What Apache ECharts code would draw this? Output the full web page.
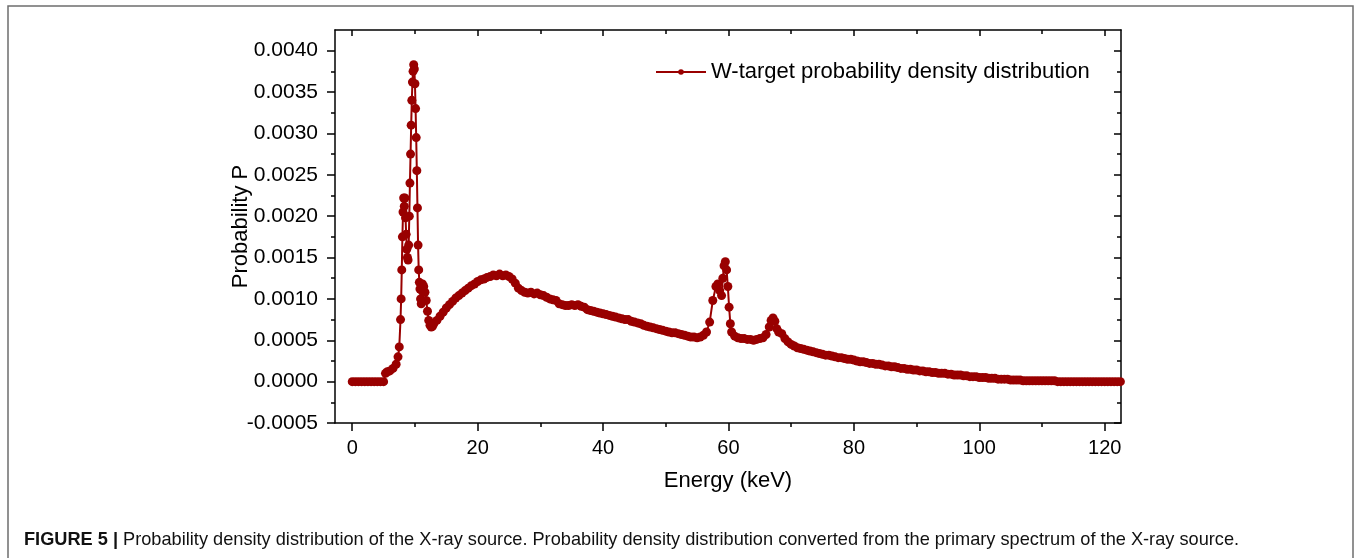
<!DOCTYPE html>
<html>
<head>
<meta charset="utf-8">
<script src="https://cdn.jsdelivr.net/npm/echarts@6/dist/echarts.min.js"></script>
<style>
  html, body { margin: 0; padding: 0; background: #fff; }
  #chart { width: 1356px; height: 558px; }
</style>
</head>
<body>
<div id="chart"></div>
<script>
// energy (keV) and probability
const energyA = [0, 0.5, 1, 1.5, 2, 2.5, 3, 3.5, 4, 4.5, 5, 5.3, 5.6, 6, 6.5, 7, 7.3, 7.5, 7.7, 7.8,
  7.9, 8, 8.1, 8.2, 8.3, 8.4, 8.5, 8.6, 8.7, 8.8, 8.9, 9, 9.1, 9.2, 9.3, 9.4, 9.5, 9.6, 9.7, 9.8,
  9.9, 10, 10.1, 10.2, 10.3, 10.4, 10.5, 10.6, 10.7, 10.8, 10.9, 11, 11.1, 11.2, 11.4, 11.6, 11.8, 12, 12.2, 12.4,
  12.6, 12.8, 13];
const probA = [0, 0, 0, 0, 0, 0, 0, 0, 0, 0, 0, 0.00010, 0.00012, 0.00013, 0.00016, 0.00021, 0.00030, 0.00042, 0.00075, 0.00100,
  0.00135, 0.00175, 0.00205, 0.00222, 0.00212, 0.00222, 0.00198, 0.00178, 0.00160, 0.00150, 0.00147, 0.00165, 0.00200, 0.00240, 0.00275, 0.00310, 0.00340, 0.00362, 0.00375, 0.00383,
  0.00378, 0.00360, 0.00330, 0.00295, 0.00255, 0.00210, 0.00165, 0.00135, 0.00120, 0.00112, 0.00100, 0.00094, 0.00110, 0.00118, 0.00115, 0.00108, 0.00098, 0.00085, 0.00074, 0.00068,
  0.00066, 0.00067, 0.00070];

const energyB = [13.5, 14, 14.5, 15, 15.5, 16, 16.5, 17, 17.5, 18, 18.5, 19, 19.5, 20, 20.5, 21, 21.5, 22, 22.5, 23,
  23.5, 24, 24.5, 25, 25.5, 26, 26.5, 27, 27.5, 28, 28.5, 29, 29.5, 30, 30.5, 31, 31.5, 32, 32.5, 33,
  33.5, 34, 34.5, 35, 35.5, 36, 36.5, 37, 37.5, 38, 38.5, 39, 39.5, 40, 40.5, 41, 41.5, 42, 42.5, 43,
  43.5, 44, 44.5, 45, 45.5, 46, 46.5, 47, 47.5, 48, 48.5, 49, 49.5, 50, 50.5, 51, 51.5, 52, 52.5, 53,
  53.5, 54, 54.5, 55, 55.5, 56, 56.5];
const probB = [0.00074, 0.00079, 0.00084, 0.00089, 0.00093, 0.00097, 0.00101, 0.00104, 0.00107, 0.00110, 0.00113, 0.00116, 0.00118, 0.00121, 0.00123, 0.00124, 0.00126, 0.00127, 0.00129, 0.00128,
  0.00130, 0.00128, 0.00129, 0.00127, 0.00124, 0.00119, 0.00113, 0.00110, 0.00108, 0.00107, 0.00108, 0.00106, 0.00107, 0.00105, 0.00104, 0.00102, 0.00100, 0.00099, 0.00098, 0.00094,
  0.00093, 0.00092, 0.00092, 0.00093, 0.00092, 0.00093, 0.00091, 0.00090, 0.00087, 0.00086, 0.00085, 0.00084, 0.00083, 0.00082, 0.00081, 0.00080, 0.00079, 0.00078, 0.00077, 0.00076,
  0.00075, 0.00075, 0.00073, 0.00072, 0.00071, 0.00070, 0.00068, 0.00067, 0.00066, 0.00065, 0.00064, 0.00063, 0.00062, 0.00061, 0.00060, 0.00059, 0.00059, 0.00058, 0.00057, 0.00056,
  0.00055, 0.00054, 0.00054, 0.00053, 0.00054, 0.00056, 0.00060];

const energyC = [57, 57.5, 58, 58.3, 58.6, 58.9, 59.1, 59.3, 59.5, 59.7, 59.9, 60.1, 60.3, 60.5, 61, 61.5, 62, 62.5, 63, 63.5,
  64, 64.5, 65, 65.5, 66, 66.5, 66.8, 67.1, 67.4, 67.7, 68, 68.5, 69, 69.5, 70];
const probC = [0.00072, 0.00098, 0.00115, 0.00118, 0.00110, 0.00104, 0.00125, 0.00140, 0.00145, 0.00135, 0.00115, 0.00090, 0.00070, 0.00060, 0.00055, 0.00053, 0.00052, 0.00052, 0.00051, 0.00051,
  0.00050, 0.00051, 0.00052, 0.00053, 0.00057, 0.00066, 0.00074, 0.00077, 0.00073, 0.00064, 0.00060, 0.00058, 0.00052, 0.00048, 0.00045];

const energyD = [70.5, 71, 71.5, 72, 72.5, 73, 73.5, 74, 74.5, 75, 75.5, 76, 76.5, 77, 77.5, 78, 78.5, 79, 79.5, 80,
  80.5, 81, 81.5, 82, 82.5, 83, 83.5, 84, 84.5, 85, 85.5, 86, 86.5, 87, 87.5, 88, 88.5, 89, 89.5, 90,
  90.5, 91, 91.5, 92, 92.5, 93, 93.5, 94, 94.5, 95, 95.5, 96, 96.5, 97, 97.5, 98, 98.5, 99, 99.5, 100,
  100.5, 101, 101.5, 102, 102.5, 103, 103.5, 104, 104.5, 105, 105.5, 106, 106.5, 107, 107.5, 108, 108.5, 109, 109.5, 110,
  110.5, 111, 111.5, 112, 112.5, 113, 113.5, 114, 114.5, 115, 115.5, 116, 116.5, 117, 117.5, 118, 118.5, 119, 119.5, 120,
  120.5, 121, 121.5, 122, 122.5];
const probD = [0.00043, 0.00041, 0.00040, 0.00039, 0.00038, 0.00037, 0.00036, 0.00035, 0.00034, 0.00033, 0.00032, 0.00032, 0.00031, 0.00030, 0.00029, 0.00029, 0.00028, 0.00027, 0.00027, 0.00026,
  0.00025, 0.00024, 0.00024, 0.00023, 0.00022, 0.00022, 0.00021, 0.00021, 0.00020, 0.00019, 0.00019, 0.00018, 0.00018, 0.00017, 0.00016, 0.00016, 0.00015, 0.00015, 0.00014, 0.00014,
  0.00013, 0.00013, 0.00012, 0.00012, 0.00011, 0.00011, 0.00010, 0.00010, 0.00010, 0.00009, 0.00009, 0.00008, 0.00008, 0.00008, 0.00007, 0.00007, 0.00006, 0.00006, 0.00006, 0.00005,
  0.00005, 0.00005, 0.00004, 0.00004, 0.00004, 0.00003, 0.00003, 0.00003, 0.00003, 0.00002, 0.00002, 0.00002, 0.00002, 0.00001, 0.00001, 0.00001, 0.00001, 0.00001, 0.00001, 0.00001,
  0.00001, 0.00001, 0.00001, 0.00001, 0, 0, 0, 0, 0, 0, 0, 0, 0, 0, 0, 0, 0, 0, 0, 0,
  0, 0, 0, 0, 0];

// ticks
const xMajor = [0, 20, 40, 60, 80, 100, 120];
const xMinor = [10, 30, 50, 70, 90, 110];
const yMajor = [-0.0005, 0, 0.0005, 0.001, 0.0015, 0.002, 0.0025, 0.003, 0.0035, 0.004];
const yMinor = [-0.00025, 0.00025, 0.00075, 0.00125, 0.00175, 0.00225, 0.00275, 0.00325, 0.00375];

const seriesName = 'W-target probability density distribution';
const xName = 'Energy (keV)';
const yName = 'Probability P';
const caption = 'Probability density distribution of the X-ray source. Probability density distribution converted from the primary spectrum of the X-ray source.';

const energy = energyA.concat(energyB, energyC, energyD);
const prob = probA.concat(probB, probC, probD);

const FONT = '"Liberation Sans", Arial, sans-serif';
const RED = '#990000';
const X_MIN = -2.75, X_MAX = 122.6;
const Y_MIN = -0.0005, Y_MAX = 0.00425;
const axisLineStyle = { color: '#000', width: 1.5 };

// one axis per tick set, so the mirrored frame and minor ticks line up
function xAx(position, ticks, inside, len, showLine, labels) {
  return {
    type: 'value', position: position, min: X_MIN, max: X_MAX,
    axisLine: { show: showLine, onZero: false, lineStyle: axisLineStyle },
    axisTick: { show: true, inside: inside, length: len, customValues: ticks, lineStyle: { color: '#000', width: 1.5 } },
    axisLabel: labels ? { show: true, customValues: ticks, color: '#000', fontFamily: FONT, fontSize: 20, margin: 15 } : { show: false },
    splitLine: { show: false }
  };
}
function yAx(position, ticks, inside, len, showLine, labels) {
  return {
    type: 'value', position: position, min: Y_MIN, max: Y_MAX,
    axisLine: { show: showLine, onZero: false, lineStyle: axisLineStyle },
    axisTick: { show: true, inside: inside, length: len, customValues: ticks, lineStyle: { color: '#000', width: 1.5 } },
    axisLabel: labels ? {
      show: true, customValues: ticks, color: '#000', fontFamily: FONT, fontSize: 21, margin: 17,
      formatter: v => v.toFixed(4)
    } : { show: false },
    splitLine: { show: false }
  };
}

const xBottom = xAx('bottom', xMajor, false, 8, true, true);
xBottom.name = xName;
xBottom.nameLocation = 'middle';
xBottom.nameGap = 47;
xBottom.nameTextStyle = { color: '#000', fontFamily: FONT, fontSize: 22 };

const yLeft = yAx('left', yMajor, false, 8, true, true);
yLeft.name = yName;
yLeft.nameLocation = 'middle';
yLeft.nameGap = 83;
yLeft.nameMoveOverlap = false;
yLeft.nameTextStyle = { color: '#000', fontFamily: FONT, fontSize: 22 };

const chart = echarts.init(document.getElementById('chart'), null, { renderer: 'canvas' });

chart.setOption({
  animation: false,
  backgroundColor: '#fff',
  grid: { left: 335, right: 235, top: 30, bottom: 135, containLabel: false, outerBoundsMode: 'none' },
  legend: {
    data: [seriesName],
    left: 650, top: 56,
    itemWidth: 50, itemHeight: 7, itemGap: 5,
    textStyle: { color: '#000', fontFamily: FONT, fontSize: 22 }
  },
  xAxis: [
    xBottom,
    xAx('bottom', xMinor, false, 4, false, false),
    xAx('top', xMajor, true, 6, true, false),
    xAx('top', xMinor, true, 4, false, false)
  ],
  yAxis: [
    yLeft,
    yAx('left', yMinor, false, 4, false, false),
    yAx('right', yMajor, true, 7, true, false),
    yAx('right', yMinor, true, 4, false, false)
  ],
  graphic: [
    {
      type: 'rect', silent: true,
      shape: { x: 8, y: 6, width: 1345, height: 700 },
      style: { fill: 'none', stroke: '#6e6e6e', lineWidth: 1.5 }
    },
    {
      type: 'text', left: 24, top: 531, silent: true,
      style: {
        text: '{b|FIGURE 5 |} ' + caption,
        fontFamily: FONT, fontSize: 18.2, fill: '#111',
        rich: { b: { fontFamily: FONT, fontSize: 18.2, fontWeight: 'bold', fill: '#111' } }
      }
    }
  ],
  series: [{
    name: seriesName,
    type: 'line',
    xAxisIndex: 0, yAxisIndex: 0,
    data: energy.map((e, i) => [e, prob[i]]),
    symbol: 'circle',
    symbolSize: 9,
    showSymbol: true,
    showAllSymbol: true,
    sampling: 'none',
    color: RED,
    itemStyle: { color: RED },
    lineStyle: { color: RED, width: 2 },
    z: 5
  }]
});
</script>
</body>
</html>
